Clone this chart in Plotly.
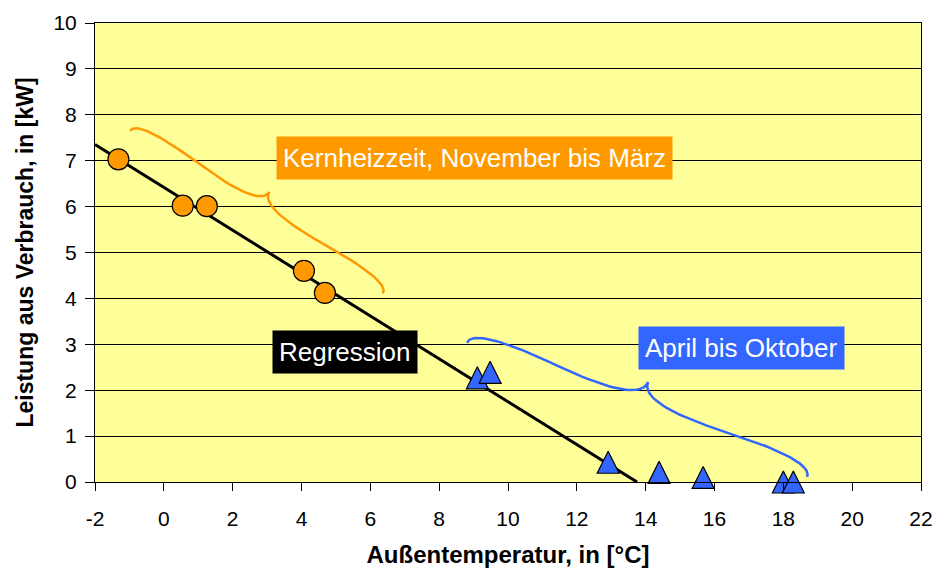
import numpy as np
import plotly.graph_objects as go

# Kernheizzeit, November bis März
winter_temp = [-1.32, 0.55, 1.25, 4.07, 4.68]
winter_kw = [7.03, 6.02, 6.01, 4.60, 4.12]

# April bis Oktober
summer_temp = [9.11, 9.48, 12.91, 14.39, 15.67, 18.00, 18.29]
summer_kw = [2.27, 2.39, 0.43, 0.21, 0.10, 0.00, 0.00]

# Regression line y = a + b*x
reg_intercept = 6.42
reg_slope = -0.467
reg_temp = [-2, 13.75]

# brace end points (temp, kW)
brace_winter = [(-0.98, 7.65), (6.36, 4.11)]
brace_summer = [(8.81, 3.03), (18.69, 0.11)]

x_ticks = list(range(-2, 23, 2))
x_labels = [str(v) for v in x_ticks]   # plain hyphen for -2
y_ticks = list(range(0, 11))

ORANGE = "#FF9900"
BLUE = "#3366FF"
YELLOW = "#FFFF99"

W, H = 936, 572
M = dict(l=95, r=15, t=23, b=90)
X_RANGE = [-2, 22]
Y_RANGE = [0, 10]
sx = (W - M["l"] - M["r"]) / (X_RANGE[1] - X_RANGE[0])
sy = (H - M["t"] - M["b"]) / (Y_RANGE[1] - Y_RANGE[0])


def quad(p0, c, p1, n=25):
    t = np.linspace(0, 1, n)[:, None]
    return (1 - t) ** 2 * p0 + 2 * (1 - t) * t * c + t ** 2 * p1


def brace(p_start, p_end, w, q=0.6):
    # work in pixel space so the brace keeps its shape
    a = np.array([(p_start[0] - X_RANGE[0]) * sx, p_start[1] * sy])
    b = np.array([(p_end[0] - X_RANGE[0]) * sx, p_end[1] * sy])
    d = a - b
    L = np.hypot(*d)
    d = d / L
    perp = np.array([d[1], -d[0]])
    q1 = a + q * w * perp
    q2 = a - 0.25 * L * d + (1 - q) * w * perp
    tip = a - 0.5 * L * d + w * perp
    q3 = b + q * w * perp
    q4 = a - 0.75 * L * d + (1 - q) * w * perp
    part1 = np.vstack([quad(a, q1, q2), quad(q2, 2 * q2 - q1, tip)])
    part2 = np.vstack([quad(b, q3, q4), quad(q4, 2 * q4 - q3, tip)])
    pts = np.vstack([part1, part2[::-1]])
    return pts[:, 0] / sx + X_RANGE[0], pts[:, 1] / sy


fig = go.Figure()

bx, by = brace(*brace_winter, 24)
fig.add_trace(go.Scatter(x=bx, y=by, mode="lines", line=dict(color=ORANGE, width=2.5),
                         hoverinfo="skip", showlegend=False))
bx, by = brace(*brace_summer, 30)
fig.add_trace(go.Scatter(x=bx, y=by, mode="lines", line=dict(color=BLUE, width=2.5),
                         hoverinfo="skip", showlegend=False))

reg_kw = [reg_intercept + reg_slope * t for t in reg_temp]
fig.add_trace(go.Scatter(x=reg_temp, y=reg_kw, mode="lines",
                         line=dict(color="black", width=3), showlegend=False))

fig.add_trace(go.Scatter(
    x=winter_temp, y=winter_kw, mode="markers", showlegend=False, cliponaxis=False,
    marker=dict(symbol="circle", size=21, color=ORANGE, line=dict(color="black", width=1.2))))

# upward triangle centred on the point (arrow-down turned round)
fig.add_trace(go.Scatter(
    x=summer_temp, y=summer_kw, mode="markers", showlegend=False, cliponaxis=False,
    marker=dict(symbol="arrow-down", size=22, angle=180, standoff=11, color=BLUE,
                line=dict(color="black", width=1.2))))

box_font = dict(family="Liberation Sans, Arial", size=26, color="white")
fig.add_annotation(x=9.04, y=7.05, text="Kernheizzeit, November bis März", showarrow=False,
                   font=box_font, bgcolor=ORANGE, borderpad=6)
fig.add_annotation(x=5.25, y=2.84, text="Regression", showarrow=False,
                   font=box_font, bgcolor="black", borderpad=6)
fig.add_annotation(x=16.77, y=2.93, text="April bis Oktober", showarrow=False,
                   font=box_font, bgcolor=BLUE, borderpad=6)

fig.update_layout(
    width=W, height=H, margin=M,
    paper_bgcolor="white", plot_bgcolor=YELLOW,
    font=dict(family="Liberation Sans, Arial", size=21, color="black"),
)
fig.update_xaxes(
    range=X_RANGE, tickvals=x_ticks, ticktext=x_labels, showgrid=False, zeroline=False,
    showline=True, linecolor="black", linewidth=1, mirror=True, automargin=False,
    ticks="outside", ticklen=8, tickcolor="black", ticklabelstandoff=10,
    title=dict(text="<b>Außentemperatur, in [°C]</b>", font=dict(size=24), standoff=16),
)
fig.update_yaxes(
    range=Y_RANGE, tickvals=y_ticks, showgrid=True, gridcolor="black", gridwidth=1,
    zeroline=False, showline=True, linecolor="black", linewidth=1, mirror=True,
    automargin=False, ticks="outside", ticklen=9, tickcolor="black", ticklabelstandoff=4,
    title=dict(text="<b>Leistung aus Verbrauch, in [kW]</b>", font=dict(size=23), standoff=13),
)

# drop the default page margin so the figure fills the window
fig.write_html("out.html", config={"displayModeBar": False},
               post_script="document.body.style.margin = '0';")
